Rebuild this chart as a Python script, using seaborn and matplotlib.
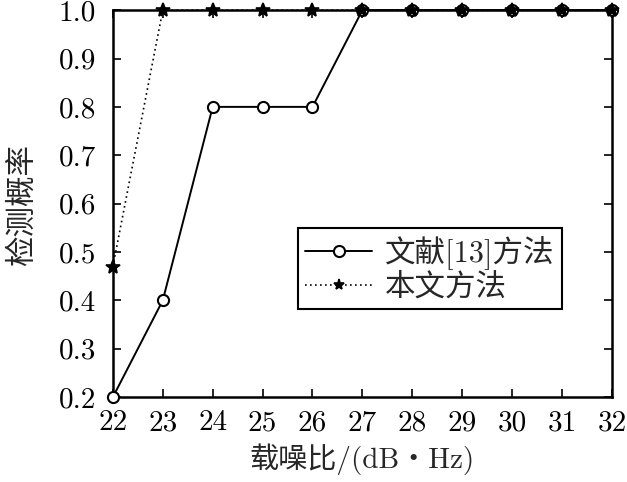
import seaborn as sns
import matplotlib.pyplot as plt
import pandas as pd

# data
cnr = [22, 23, 24, 25, 26, 27, 28, 29, 30, 31, 32]
ref13_prob = [0.2, 0.4, 0.8, 0.8, 0.8, 1.0, 1.0, 1.0, 1.0, 1.0, 1.0]
ours_prob = [0.47, 1.0, 1.0, 1.0, 1.0, 1.0, 1.0, 1.0, 1.0, 1.0, 1.0]
series_names = ["文献[13]方法", "本文方法"]
yticks = [0.2, 0.3, 0.4, 0.5, 0.6, 0.7, 0.8, 0.9, 1.0]

df = pd.DataFrame({
    "cnr": cnr * 2,
    "prob": ref13_prob + ours_prob,
    "method": [series_names[0]] * len(cnr) + [series_names[1]] * len(cnr),
})

sns.set_style("ticks")
plt.rcParams["font.family"] = ["cmr10", "Noto Sans CJK SC", "DejaVu Sans"]
plt.rcParams["axes.unicode_minus"] = False

fig, ax = plt.subplots(figsize=(6.27, 4.82), dpi=100)
fig.subplots_adjust(left=0.18, right=0.976, top=0.979, bottom=0.176)

sns.lineplot(
    data=df, x="cnr", y="prob", hue="method", style="method",
    hue_order=series_names, style_order=series_names,
    palette=["black", "black"],
    dashes={series_names[0]: "", series_names[1]: (1, 2)},
    markers={series_names[0]: "o", series_names[1]: "*"},
    ax=ax, clip_on=False, zorder=5, linewidth=1.4,
)

# open circles, filled stars
for line in ax.lines:
    if line.get_marker() == "o":
        line.set_markerfacecolor("white")
        line.set_markeredgecolor("black")
        line.set_markersize(8)
        line.set_markeredgewidth(1.5)
    elif line.get_marker() == "*":
        line.set_markerfacecolor("black")
        line.set_markeredgecolor("black")
        line.set_markersize(10)
        line.set_markeredgewidth(1.2)
        line.set_linewidth(1.2)

ax.set_xlim(22, 32)
ax.set_ylim(0.2, 1.0)
ax.set_xticks(cnr)
ax.set_yticks(yticks)
ax.set_yticklabels([f"{v:.1f}" for v in yticks])
ax.tick_params(direction="in", length=6, width=1.2, labelsize=21, colors="black",
               top=True, right=True)
ax.tick_params(axis="y", pad=12)
ax.tick_params(axis="x", pad=9)
for sp in ax.spines.values():
    sp.set_visible(True)
    sp.set_linewidth(1.8)
    sp.set_color("black")

ax.set_xlabel("载噪比/(dB・Hz)", fontsize=21, labelpad=5)
ax.set_ylabel("检测概率", fontsize=22, labelpad=16)

leg = ax.legend(
    loc="upper right", bbox_to_anchor=(0.93, 0.476), fontsize=22,
    frameon=True, fancybox=False, edgecolor="black", framealpha=1,
    handlelength=2.2, borderpad=0.25, labelspacing=0.1, handletextpad=0.4,
)
leg.get_frame().set_linewidth(1.5)
for h in leg.legend_handles:
    if h.get_marker() == "*":
        h.set_markersize(8)

plt.savefig("out.png", dpi=100)
plt.close()
